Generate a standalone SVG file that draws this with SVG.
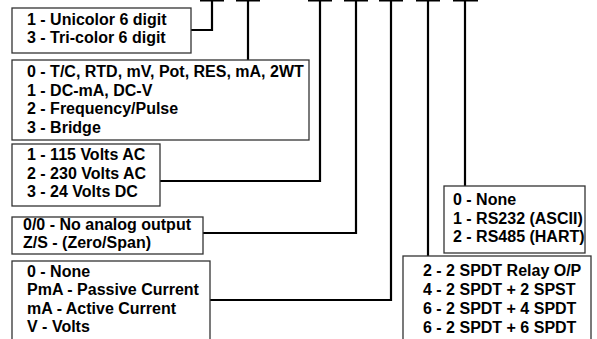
<svg xmlns="http://www.w3.org/2000/svg" width="597" height="339" viewBox="0 0 597 339">
<style>
.box{fill:#fff;stroke:#333;stroke-width:1.3}
.t{font-family:"Liberation Sans",Arial,sans-serif;font-weight:bold;font-size:16px;fill:#000}
.c{fill:none;stroke:#000;stroke-width:2.2}
.bar{fill:none;stroke:#000;stroke-width:1.6}
</style>
<rect width="597" height="339" fill="#fff"/>
<g id="connectors">
<path class="bar" d="M200,0.8H224M236,0.8H260M308,0.8H332M344,0.8H368M379,0.8H403M416,0.8H440M453,0.8H478"/>
<path class="c" d="M191,30H212V0"/>
<path class="c" d="M248,0V60"/>
<path class="c" d="M160,181H320V0"/>
<path class="c" d="M203,233H356V0"/>
<path class="c" d="M210,300H391V0"/>
<path class="c" d="M428,0V256"/>
<path class="c" d="M465,0V186"/>
</g>
<g id="n1">
<rect class="box" x="12" y="8" width="179" height="45"/>
<text class="t" x="27" y="25">1 - Unicolor 6 digit</text>
<text class="t" x="27" y="43">3 - Tri-color 6 digit</text>
</g>
<g id="n2">
<rect class="box" x="12" y="60" width="297" height="80"/>
<text class="t" x="27" y="77">0 - T/C, RTD, mV, Pot, RES, mA, 2WT</text>
<text class="t" x="27" y="95.5">1 - DC-mA, DC-V</text>
<text class="t" x="27" y="114">2 - Frequency/Pulse</text>
<text class="t" x="27" y="132.5">3 - Bridge</text>
</g>
<g id="n3">
<rect class="box" x="12" y="144" width="148" height="62"/>
<text class="t" x="27" y="160">1 - 115 Volts AC</text>
<text class="t" x="27" y="178.5">2 - 230 Volts AC</text>
<text class="t" x="27" y="197">3 - 24 Volts DC</text>
</g>
<g id="n4">
<rect class="box" x="12" y="217" width="191" height="37"/>
<text class="t" x="23" y="230">0/0 - No analog output</text>
<text class="t" x="23" y="248">Z/S - (Zero/Span)</text>
</g>
<g id="n5">
<rect class="box" x="12" y="261" width="198" height="90"/>
<text class="t" x="27" y="277">0 - None</text>
<text class="t" x="27" y="295">PmA - Passive Current</text>
<text class="t" x="27" y="313.5">mA - Active Current</text>
<text class="t" x="27" y="332">V - Volts</text>
</g>
<g id="n6">
<rect class="box" x="444" y="186" width="141" height="67"/>
<text class="t" x="453" y="205">0 - None</text>
<text class="t" x="453" y="223.5">1 - RS232 (ASCII)</text>
<text class="t" x="453" y="242">2 - RS485 (HART)</text>
</g>
<g id="n7">
<rect class="box" x="403" y="256" width="188" height="95"/>
<text class="t" x="423" y="276">2 - 2 SPDT Relay O/P</text>
<text class="t" x="423" y="295">4 - 2 SPDT + 2 SPST</text>
<text class="t" x="423" y="314">6 - 2 SPDT + 4 SPDT</text>
<text class="t" x="423" y="333">6 - 2 SPDT + 6 SPDT</text>
</g>
</svg>
